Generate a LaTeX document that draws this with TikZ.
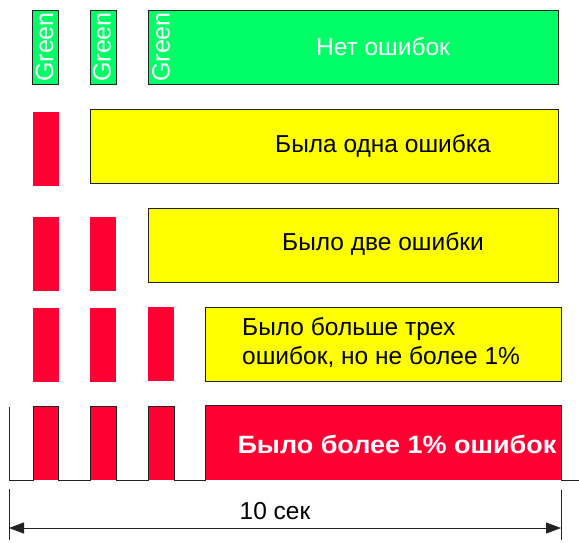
\documentclass[tikz,border=0pt]{standalone}
\usepackage{fontspec}
\setmainfont{Liberation Sans}
\usetikzlibrary{arrows.meta}
\definecolor{gr}{RGB}{0,255,102}
\definecolor{rd}{RGB}{255,0,51}
\definecolor{yl}{RGB}{255,255,0}
\definecolor{ln}{RGB}{34,34,34}
\begin{document}
\begin{tikzpicture}[x=1pt,y=-1pt,
  box/.style={draw=ln,line width=1pt,anchor=north west,inner sep=0pt,outer sep=0pt},
  gbox/.style={box,fill=gr},
  ybox/.style={box,fill=yl},
  rbar/.style={fill=rd,anchor=north west,inner sep=0pt,outer sep=0pt,minimum width=26pt,minimum height=74pt},
  gtxt/.style={text=white,font=\fontsize{25}{25}\selectfont,rotate=90,inner sep=0pt},
  lbl/.style={font=\fontsize{24.5}{29}\selectfont,inner sep=0pt}]
\useasboundingbox (0,0) rectangle (579,542);
% row 1
\node[gbox,minimum width=26pt,minimum height=74pt] (g1) at (32.5,10) {};
\node[gbox,minimum width=26pt,minimum height=74pt] (g2) at (90,10) {};
\node[gbox,minimum width=410pt,minimum height=74pt] (g3) at (148,10) {};
\node[gtxt] (t1) at (44.5,47) {Green};
\node[gtxt] (t2) at (102,47) {Green};
\node[gtxt] (t3) at (161,47) {Green};
\node[lbl,text=white] (l1) at (383,47) {Нет ошибок};
% row 2
\node[rbar] (r21) at (32.5,112) {};
\node[ybox,minimum width=468pt,minimum height=74pt] (y2) at (90,109) {};
\node[lbl] (l2) at (383,146) {Была одна ошибка};
% row 3
\node[rbar] (r31) at (32.5,217) {};
\node[rbar] (r32) at (90,217) {};
\node[ybox,minimum width=410pt,minimum height=74pt] (y3) at (148,208) {};
\node[lbl] (l3) at (383,244) {Было две ошибки};
% row 4
\node[rbar] (r41) at (32.5,308) {};
\node[rbar] (r42) at (90,308) {};
\node[rbar] (r43) at (148,307) {};
\node[ybox,minimum width=356pt,minimum height=74pt] (y4) at (205,307) {};
\node[lbl,align=left,anchor=west] (l4) at (242,343) {Было больше трех\\ошибок, но не более 1\%};
% row 5 waveform
\fill[rd] (33,406) rectangle (58,480);
\fill[rd] (90,406) rectangle (116,480);
\fill[rd] (148,406) rectangle (174,480);
\fill[rd] (205,405) rectangle (561,480);
\draw[ln,line width=1pt] (9,407) -- (9,480) -- (33,480) -- (33,406) -- (58,406) -- (58,480)
  -- (90,480) -- (90,406) -- (116,406) -- (116,480) -- (148,480) -- (148,406) -- (174,406)
  -- (174,480) -- (205,480) -- (205,405) -- (561,405) -- (561,480) -- (579,480);
\node[text=white,font=\bfseries\fontsize{25}{25}\selectfont,inner sep=0pt] (l5) at (397,444) {\scalebox{1.08}[1]{Было более 1\% ошибок}};
% dimension
\coordinate (dl) at (9,489);
\coordinate (dr) at (561,490);
\coordinate (dlb) at (9,540);
\coordinate (drb) at (561,540);
\draw[ln,line width=1pt] (dl) -- (dlb);
\draw[ln,line width=1pt] (dr) -- (drb);
\coordinate (al) at (9,528);
\coordinate (ar) at (561,528);
\draw[ln,line width=1pt,{Triangle[length=15pt,width=11pt]}-{Triangle[length=15pt,width=11pt]}] (al) -- (ar);
\node[lbl] (l6) at (275,511) {10 сек};
\end{tikzpicture}
\end{document}
